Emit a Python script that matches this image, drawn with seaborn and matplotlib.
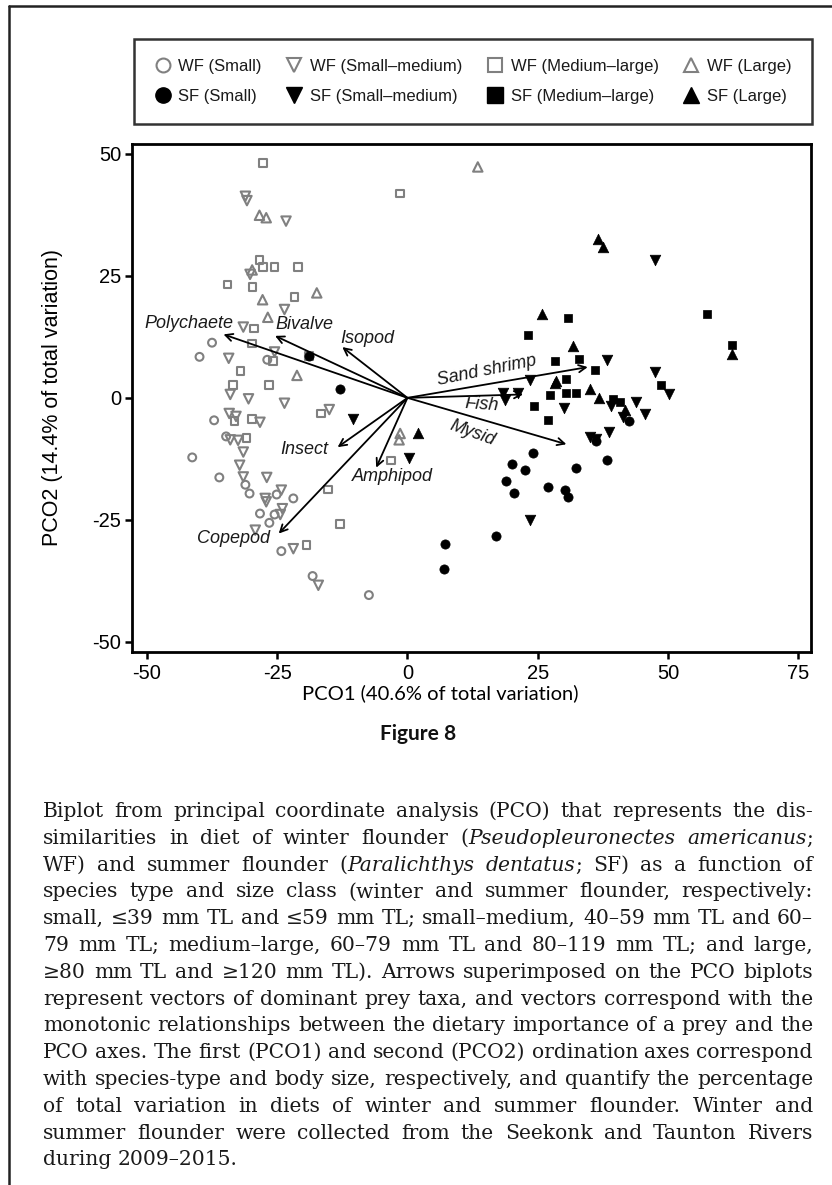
import numpy as np
import pandas as pd
import matplotlib
matplotlib.use("Agg")
import matplotlib.pyplot as plt
from matplotlib.lines import Line2D
import seaborn as sns

# ---------------- data (PCO1, PCO2 scores) ----------------
wf_small_x = [-37.5, -39.9, -26.9, -37.1, -34.8, -41.3, -36.1, -31.1, -30.3, -25.1, -21.9,
              -28.3, -25.5, -26.5, -24.2, -18.2, -7.4]
wf_small_y = [11.3, 8.4, 7.8, -4.6, -7.9, -12.2, -16.3, -17.8, -19.6, -19.8, -20.6,
              -23.7, -23.9, -25.6, -31.4, -36.5, -40.4]

wf_smed_x = [-31.1, -30.8, -23.3, -30.2, -23.6, -31.5, -34.3, -25.5, -34.0, -30.5, -23.6,
             -15.0, -34.2, -32.9, -28.3, -34.0, -32.5, -31.5, -32.2, -31.5, -27.0, -27.3,
             -27.1, -24.2, -24.0, -24.4, -29.2, -21.9, -17.1]
wf_smed_y = [41.3, 40.4, 36.2, 25.3, 18.1, 14.5, 8.1, 9.4, 0.7, -0.2, -1.1,
             -2.4, -3.2, -3.8, -5.0, -8.6, -8.7, -11.1, -13.8, -16.2, -16.3, -20.6,
             -21.3, -18.9, -22.7, -23.9, -27.1, -30.9, -38.4]

wf_mlarge_x = [-27.7, -1.4, -28.4, -27.7, -25.5, -21.0, -34.5, -29.7, -21.7, -29.5, -29.8,
               -25.8, -18.9, -32.0, -26.6, -33.5, -16.6, -33.2, -29.8, -30.9, -3.2, -15.2,
               -12.9, -19.4]
wf_mlarge_y = [48.1, 41.9, 28.2, 26.8, 26.8, 26.8, 23.2, 22.7, 20.6, 14.2, 11.1,
               7.5, 8.6, 5.5, 2.6, 2.6, -3.2, -4.7, -4.3, -8.2, -12.8, -18.8,
               -25.8, -30.2]

wf_large_x = [13.5, -28.4, -27.1, -29.8, -27.8, -17.4, -26.8, -21.2, -1.4, -1.6]
wf_large_y = [47.3, 37.4, 36.9, 26.2, 20.1, 21.5, 16.5, 4.6, -7.3, -8.6]

sf_small_x = [-18.9, -12.9, 42.5, 36.1, 24.1, 20.0, 22.6, 18.9, 20.5, 27.0, 30.3,
              30.9, 32.3, 38.2, 16.9, 7.2, 7.0]
sf_small_y = [8.6, 1.9, -4.7, -8.8, -11.3, -13.5, -14.8, -17.1, -19.5, -18.3, -18.8,
              -20.3, -14.3, -12.8, -28.3, -30.0, -35.0]

sf_smed_x = [47.6, 38.2, 23.5, 18.4, 21.2, 18.7, 30.0, 47.6, 50.2, 43.8, 45.5,
             39.0, 41.3, 38.7, 35.0, 36.2, 23.5, 0.3, -10.4]
sf_smed_y = [28.2, 7.7, 3.6, 0.9, 0.9, -0.4, -2.1, 5.3, 0.7, -0.9, -3.4,
             -1.7, -3.9, -7.0, -8.1, -8.4, -25.1, -12.4, -4.3]

sf_mlarge_x = [23.1, 30.9, 57.5, 62.2, 28.4, 33.0, 35.9, 30.5, 27.3, 30.5, 32.4,
               24.2, 27.0, 48.6, 39.4, 40.7]
sf_mlarge_y = [12.8, 16.3, 17.2, 10.9, 7.5, 8.0, 5.8, 3.9, 0.5, 1.0, 1.0,
               -1.7, -4.5, 2.6, -0.2, -0.9]

sf_large_x = [36.5, 37.5, 25.9, 31.8, 28.3, 28.6, 35.0, 36.7, 41.7, 2.1, 62.2]
sf_large_y = [32.5, 31.0, 17.1, 10.7, 3.0, 3.4, 1.9, 0.0, -2.4, -7.2, 9.0]

group_labels = ["WF (Small)", "WF (Small\u2013medium)", "WF (Medium\u2013large)", "WF (Large)",
                "SF (Small)", "SF (Small\u2013medium)", "SF (Medium\u2013large)", "SF (Large)"]

# prey vectors (tip coordinates) and labels
prey = ["Polychaete", "Bivalve", "Isopod", "Sand shrimp", "Fish", "Mysid",
        "Insect", "Amphipod", "Copepod"]
prey_x = [-35.3, -25.4, -12.5, 34.6, 22.2, 30.5, -13.4, -6.0, -24.7]
prey_y = [13.0, 12.7, 10.4, 6.3, 0.7, -9.5, -10.1, -14.3, -27.8]
prey_lab_x = [-42.0, -19.7, -7.7, 15.2, 14.2, 12.5, -19.8, -2.8, -33.4]
prey_lab_y = [15.3, 15.0, 12.1, 5.5, -1.4, -7.2, -10.5, -16.2, -28.8]
prey_lab_rot = [0, 0, 0, 11.5, -4, -20, 0, 0, 0]

x_ticks = [-50, -25, 0, 25, 50, 75]
y_ticks = [-50, -25, 0, 25, 50]

caption_lines = [
    "Biplot from principal coordinate analysis (PCO) that represents the dis-",
    "similarities in diet of winter flounder (*Pseudopleuronectes americanus*;",
    "WF) and summer flounder (*Paralichthys dentatus*; SF) as a function of",
    "species type and size class (winter and summer flounder, respectively:",
    "small, \u226439 mm TL and \u226459 mm TL; small\u2013medium, 40\u201359 mm TL and 60\u2013",
    "79 mm TL; medium\u2013large, 60\u201379 mm TL and 80\u2013119 mm TL; and large,",
    "\u226580 mm TL and \u2265120 mm TL). Arrows superimposed on the PCO biplots",
    "represent vectors of dominant prey taxa, and vectors correspond with the",
    "monotonic relationships between the dietary importance of a prey and the",
    "PCO axes. The first (PCO1) and second (PCO2) ordination axes correspond",
    "with species-type and body size, respectively, and quantify the percentage",
    "of total variation in diets of winter and summer flounder. Winter and",
    "summer flounder were collected from the Seekonk and Taunton Rivers",
    "during 2009\u20132015.",
]

# ---------------- figure ----------------
sns.set_theme(style="white")
plt.rcParams["font.family"] = ["Liberation Sans", "DejaVu Sans"]
plt.rcParams["axes.unicode_minus"] = False

W_PX, H_PX = 832, 1185
fig = plt.figure(figsize=(W_PX / 100, H_PX / 100), dpi=100)
fig.patch.set_facecolor("white")


def fx(px):
    return px / W_PX


def fy(py):
    return 1 - py / H_PX


ax_l, ax_r, ax_t, ax_b = 132.3, 811.3, 144.0, 651.7
ax = fig.add_axes([fx(ax_l), fy(ax_b), fx(ax_r) - fx(ax_l), (ax_b - ax_t) / H_PX])
ax.set_facecolor("white")

gray = "#808080"
groups = [
    (wf_small_x, wf_small_y, "o", 32, True),
    (wf_smed_x, wf_smed_y, "v", 46, True),
    (wf_mlarge_x, wf_mlarge_y, "s", 30, True),
    (wf_large_x, wf_large_y, "^", 46, True),
    (sf_small_x, sf_small_y, "o", 44, False),
    (sf_smed_x, sf_smed_y, "v", 58, False),
    (sf_mlarge_x, sf_mlarge_y, "s", 40, False),
    (sf_large_x, sf_large_y, "^", 58, False),
]
for (gx, gy, m, s, hollow), lab in zip(groups, group_labels):
    df = pd.DataFrame({"PCO1": gx, "PCO2": gy})
    if hollow:
        sns.scatterplot(data=df, x="PCO1", y="PCO2", marker=m, s=s, color=gray,
                        facecolors="none", edgecolor=gray, linewidth=1.5,
                        legend=False, ax=ax, zorder=3)
    else:
        sns.scatterplot(data=df, x="PCO1", y="PCO2", marker=m, s=s, color="black",
                        edgecolor="black", linewidth=0.5, legend=False, ax=ax, zorder=4)

# prey vectors
for name, tx, ty, lx, ly, rot in zip(prey, prey_x, prey_y, prey_lab_x, prey_lab_y, prey_lab_rot):
    ax.annotate("", xy=(tx, ty), xytext=(0, 0),
                arrowprops=dict(arrowstyle="->", lw=1.3, color="black",
                                shrinkA=0, shrinkB=0, mutation_scale=13),
                zorder=5)
    ax.text(lx, ly, name, fontsize=13, style="italic", color="#1a1a1a",
            ha="center", va="center", rotation=rot, rotation_mode="anchor", zorder=6)

ax.set_xlim(-52.8, 77.5)
ax.set_ylim(-52.0, 52.0)
ax.set_xticks(x_ticks)
ax.set_yticks(y_ticks)
ax.set_xticklabels([str(v) for v in x_ticks])
ax.set_yticklabels([str(v) for v in y_ticks])
for sp in ax.spines.values():
    sp.set_visible(True)
    sp.set_color("black")
    sp.set_linewidth(2.0)
ax.tick_params(axis="both", direction="out", length=5, width=1.8, color="black",
               labelsize=14.5, labelcolor="black", bottom=True, left=True)
ax.tick_params(axis="x", pad=4)
ax.tick_params(axis="y", pad=3)

ax.set_ylabel("PCO2 (14.4% of total variation)", fontsize=15.5, color="black")
ax.yaxis.set_label_coords((63.0 - ax_l) / (ax_r - ax_l), 0.5)
ax.set_xlabel("PCO1 (40.6% of total variation)", fontsize=14.5, color="black",
              family=["Lato", "DejaVu Sans"])
ax.xaxis.set_label_coords((440 - ax_l) / (ax_r - ax_l), -(684 - ax_b) / (ax_b - ax_t))

# legend
handles = []
for (gx, gy, m, s, hollow), lab in zip(groups, group_labels):
    if hollow:
        h = Line2D([], [], linestyle="none", marker=m, markersize=10,
                   markerfacecolor="none", markeredgecolor=gray, markeredgewidth=1.5)
    else:
        h = Line2D([], [], linestyle="none", marker=m, markersize=11,
                   markerfacecolor="black", markeredgecolor="black")
    handles.append(h)
order = [0, 4, 1, 5, 2, 6, 3, 7]
leg = fig.legend([handles[i] for i in order], [group_labels[i] for i in order],
                 ncol=4, loc="upper left",
                 bbox_to_anchor=(fx(134), fy(39), fx(812) - fx(134), 0.0),
                 mode="expand", borderaxespad=0, fontsize=12,
                 handlelength=1.0, handletextpad=0.45, labelspacing=0.85,
                 borderpad=1.22, frameon=True, fancybox=False)
leg.get_frame().set_edgecolor("black")
leg.get_frame().set_linewidth(1.8)
for t in leg.get_texts():
    t.set_color("#1a1a1a")

# figure frame lines (left and top)
fig.add_artist(Line2D([fx(9), fx(9)], [0, fy(6)], color="#222222", lw=1.8))
fig.add_artist(Line2D([fx(9), 1], [fy(6), fy(6)], color="#222222", lw=1.8))

# figure title
fig.text(fx(418), fy(734), "Figure 8", fontsize=15, fontweight="bold",
         family=["Lato", "DejaVu Sans"], ha="center", va="center", color="#111111")

# caption (justified)
renderer = fig.canvas.get_renderer()
cap_family = ["DejaVu Serif"]
x0c, x1c = 43.0, 813.0
y_first, dy = 817.0, 26.8


def parse_line(line, italic):
    words = []
    for w in line.split(" "):
        segs, cur = [], ""
        for ch in w:
            if ch == "*":
                if cur:
                    segs.append((cur, italic))
                    cur = ""
                italic = not italic
            else:
                cur += ch
        if cur:
            segs.append((cur, italic))
        words.append(segs)
    return words, italic


def build_caption(fs):
    italic = False
    natural = []
    all_objs = []
    space_px = 0.30 * fs * 100 / 72
    for i, line in enumerate(caption_lines):
        words, italic = parse_line(line, italic)
        ybase = fy(y_first + i * dy)
        objs, widths = [], []
        for segs in words:
            wo, ww = [], 0.0
            for s, it in segs:
                t = fig.text(0, ybase, s, fontsize=fs, family=cap_family,
                             style="italic" if it else "normal", ha="left",
                             va="baseline", color="#1a1a1a")
                wd = t.get_window_extent(renderer).width
                wo.append((t, wd))
                ww += wd
                all_objs.append(t)
            objs.append(wo)
            widths.append(ww)
        last = (i == len(caption_lines) - 1)
        if not last:
            natural.append(sum(widths) + space_px * (len(words) - 1))
        if last or len(words) < 2:
            gap = space_px
        else:
            gap = (x1c - x0c - sum(widths)) / (len(words) - 1)
        xcur = x0c
        for wo, ww in zip(objs, widths):
            xx = xcur
            for t, wd in wo:
                t.set_x(fx(xx))
                xx += wd
            xcur += ww + gap
    return all_objs, natural


objs0, nat0 = build_caption(13.0)
for t in objs0:
    t.remove()
cap_fs = 13.0 * (x1c - x0c - 4) / max(nat0)
build_caption(cap_fs)

fig.savefig("out.png", dpi=100, facecolor="white")
